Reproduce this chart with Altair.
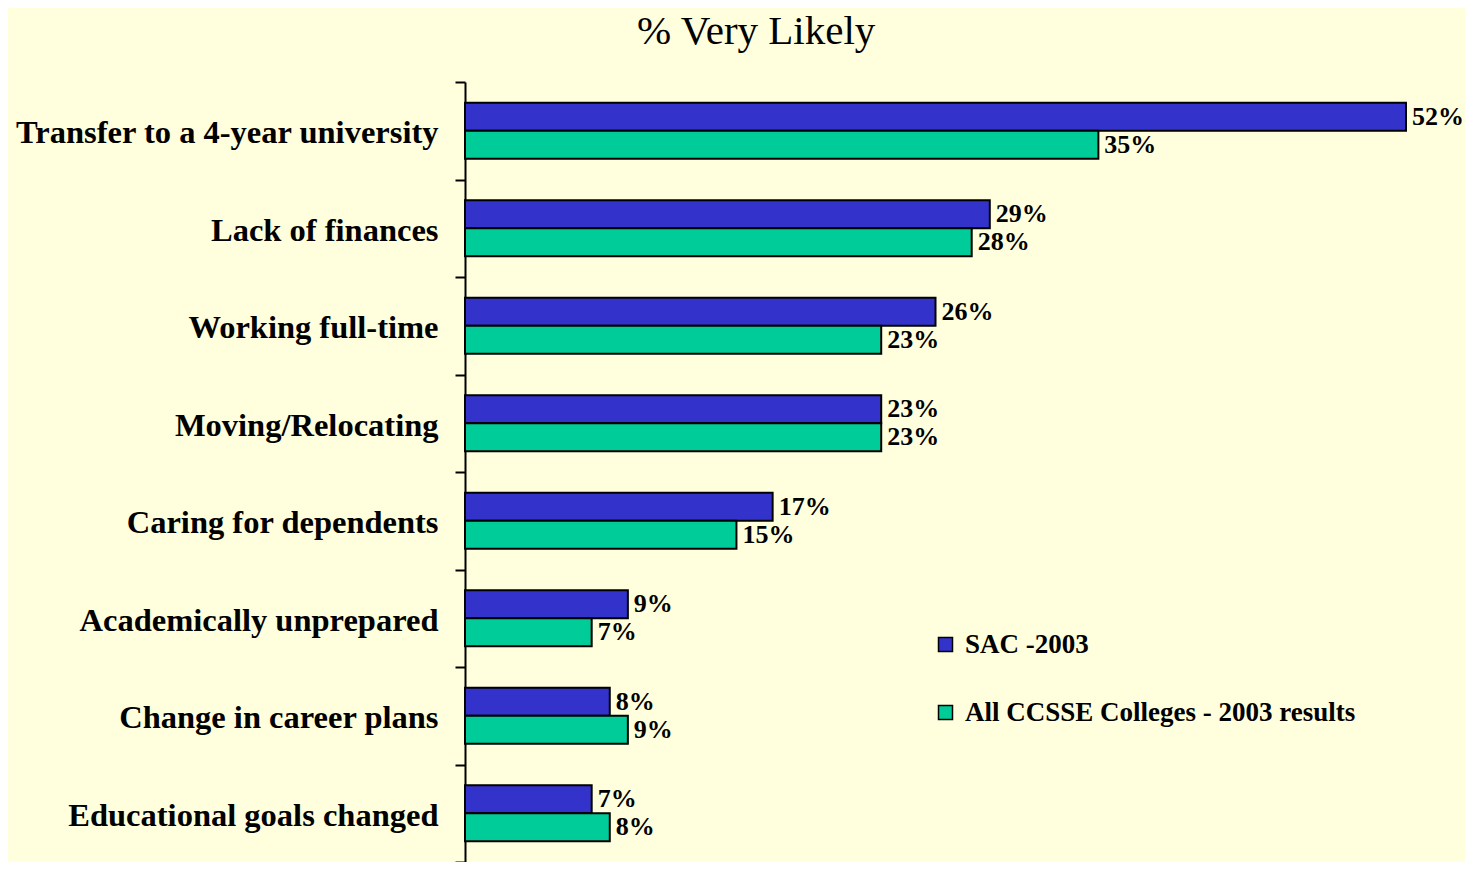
import altair as alt
import pandas as pd

categories = [
    "Transfer to a 4-year university",
    "Lack of finances",
    "Working full-time",
    "Moving/Relocating",
    "Caring for dependents",
    "Academically unprepared",
    "Change in career plans",
    "Educational goals changed",
]
series_names = ["SAC -2003", "All CCSSE Colleges - 2003 results"]
sac = [52, 29, 26, 23, 17, 9, 8, 7]
ccsse = [35, 28, 23, 23, 15, 7, 9, 8]
colors = ["#3333CC", "#00CC99"]

rows = []
for cat, a, b in zip(categories, sac, ccsse):
    rows.append({"category": cat, "series": series_names[0], "value": a})
    rows.append({"category": cat, "series": series_names[1], "value": b})
df = pd.DataFrame(rows)

FONT = "Liberation Serif"

y_enc = alt.Y(
    "category:N",
    sort=categories,
    scale=alt.Scale(paddingInner=0, paddingOuter=0),
    axis=alt.Axis(
        title=None,
        labelFont=FONT,
        labelFontSize=32.5,
        labelFontWeight="bold",
        labelColor="black",
        labelPadding=17,
        labelLimit=0,
        labelOffset=2,
        tickBand="extent",
        tickSize=10,
        tickWidth=2,
        tickColor="black",
        domainColor="black",
        domainWidth=2,
        grid=False,
    ),
)
yoff_enc = alt.YOffset(
    "series:N",
    sort=series_names,
    scale=alt.Scale(paddingInner=0, paddingOuter=0.74),
)
x_enc = alt.X(
    "value:Q",
    scale=alt.Scale(domain=[0, 52], nice=False, zero=True),
    axis=None,
)

base = alt.Chart(df).encode(y=y_enc, yOffset=yoff_enc, x=x_enc)

bars = base.mark_bar(stroke="black", strokeWidth=2).encode(
    color=alt.Color(
        "series:N",
        sort=series_names,
        scale=alt.Scale(domain=series_names, range=colors),
        legend=alt.Legend(
            title=None,
            orient="none",
            legendX=467,
            legendY=549,
            padding=0,
            symbolType="square",
            symbolSize=196,
            symbolStrokeColor="black",
            symbolStrokeWidth=1.5,
            symbolOpacity=1,
            labelFont=FONT,
            labelFontSize=27,
            labelFontWeight="bold",
            labelColor="black",
            labelOffset=6,
            labelLimit=0,
            rowPadding=40,
        ),
    )
)

labels = base.transform_calculate(lbl="datum.value + '%'").mark_text(
    align="left",
    baseline="middle",
    dx=6,
    font=FONT,
    fontSize=26,
    fontWeight="bold",
    color="black",
).encode(text="lbl:N")

chart = (
    alt.layer(bars, labels)
    .properties(
        width=941,
        height=780,
        background="#FFFFDD",
        padding={"left": 457, "top": 74, "right": 59, "bottom": 0},
        autosize=alt.AutoSizeParams(type="none"),
        title=alt.TitleParams(
            "% Very Likely",
            font=FONT,
            fontSize=41,
            fontWeight="normal",
            color="black",
            anchor="start",
            frame="group",
            dx=172,
            offset=13,
        ),
    )
    .configure_view(stroke=None)
)

chart.save("out.html", embed_options={"renderer": "svg", "actions": False})
